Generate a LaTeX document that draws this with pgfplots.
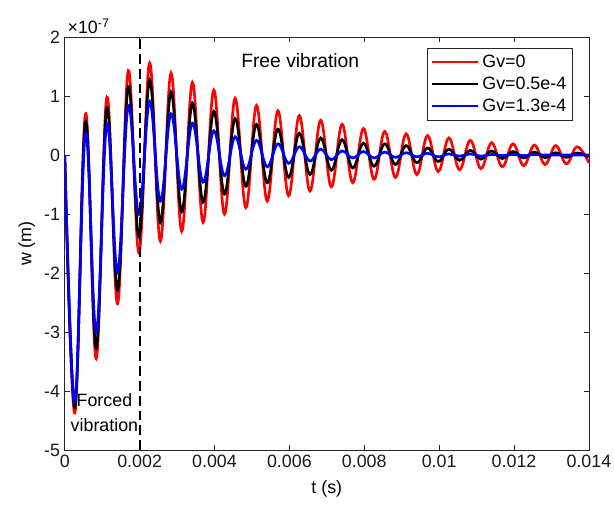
\documentclass[border=0pt]{standalone}
\usepackage{pgfplots}
\pgfplotsset{compat=1.18}
\usepackage{pgfplotstable}
\usepackage{fontspec}
\setmainfont{Liberation Sans}

% t in s, w in units of 1e-7 m; extrema
\pgfplotstableread{
t        r      k      b
0.000000  0.00   0.00   0.00
0.000270 -4.37  -4.27  -4.18
0.000555  0.70   0.56   0.37
0.000841 -3.45  -3.27  -3.01
0.001126  0.98   0.80   0.53
0.001412 -2.52  -2.29  -1.98
0.001697  1.43   1.16   0.83
0.001983 -1.66  -1.38  -1.00
0.002268  1.56   1.27   0.91
0.002553 -1.46  -1.14  -0.78
0.002839  1.39   1.07   0.70
0.003124 -1.29  -0.96  -0.58
0.003410  1.23   0.88   0.54
0.003695 -1.14  -0.80  -0.46
0.003981  1.10   0.74   0.41
0.004266 -1.00  -0.66  -0.35
0.004551  0.96   0.62   0.31
0.004837 -0.89  -0.53  -0.24
0.005122  0.84   0.52   0.25
0.005408 -0.78  -0.47  -0.20
0.005693  0.75   0.44   0.19
0.005979 -0.69  -0.38  -0.14
0.006264  0.67   0.37   0.14
0.006549 -0.61  -0.33  -0.10
0.006835  0.59   0.29   0.10
0.007120 -0.54  -0.26  -0.08
0.007406  0.52   0.26   0.07
0.007691 -0.47  -0.22  -0.05
0.007977  0.45   0.20   0.06
0.008262 -0.41  -0.19  -0.05
0.008547  0.40   0.19   0.05
0.008833 -0.38  -0.16  -0.04
0.009118  0.36   0.16   0.04
0.009404 -0.33  -0.13  -0.03
0.009689  0.33   0.12   0.03
0.009975 -0.28  -0.11  -0.03
0.010260  0.29   0.10   0.02
0.010545 -0.25  -0.09  -0.02
0.010831  0.25   0.08   0.02
0.011116 -0.23  -0.07  -0.02
0.011402  0.21   0.07   0.01
0.011687 -0.20  -0.06  -0.01
0.011973  0.19   0.06   0.01
0.012258 -0.18  -0.05  -0.01
0.012543  0.17   0.05   0.01
0.012829 -0.16  -0.045  0.00
0.013114  0.16   0.04   0.00
0.013400 -0.15  -0.04   0.00
0.013685  0.14   0.035  0.00
0.014000 -0.13  -0.03   0.00
}\data

\begin{document}
\begin{tikzpicture}
\begin{axis}[
  scale only axis,
  width=396.75pt, height=312.75pt,
  xmin=0, xmax=0.014, ymin=-5, ymax=2,
  xtick={0,0.002,0.004,0.006,0.008,0.01,0.012,0.014},
  xticklabels={0,0.002,0.004,0.006,0.008,0.01,0.012,0.014},
  ytick={-5,-4,-3,-2,-1,0,1,2},
  yticklabels={-5,-4,-3,-2,-1,0,1,2},
  scaled x ticks=false, scaled y ticks=false,
  tick align=inside,
  major tick length=3.75pt,
  axis line style={draw=black!85, line width=0.6pt},
  every tick/.style={black!85, line width=0.6pt},
  ticklabel style={font=\fontsize{13.5}{16}\selectfont, text=black!90},
  xlabel={t (s)}, ylabel={w (m)},
  label style={font=\fontsize{13.5}{16}\selectfont},
  xlabel style={yshift=-3pt},
  legend cell align=left,
  legend style={at={(0.970,0.974)}, anchor=north east,
    draw=black!85, line width=0.6pt,
    font=\fontsize{13.5}{16}\selectfont,
    inner xsep=3pt, inner ysep=3pt, row sep=1.8pt},
  legend image code/.code={\draw[#1] (0pt,0pt) -- (35pt,0pt);},
]
\addplot[red, line width=2pt, smooth, tension=0.65] table[x=t, y=r] {\data};
\addlegendentry{Gv=0}
\addplot[black, line width=2pt, smooth, tension=0.65] table[x=t, y=k] {\data};
\addlegendentry{Gv=0.5e-4}
\addplot[blue, line width=2pt, smooth, tension=0.65] table[x=t, y=b] {\data};
\addlegendentry{Gv=1.3e-4}
\addplot[black, line width=1.4pt, dash pattern=on 7.5pt off 3.75pt, forget plot] coordinates {(0.002,-5) (0.002,2)};
\node[font=\fontsize{14.6}{17}\selectfont] at (axis cs:0.00629,1.6) {Free vibration};
\node[font=\fontsize{13.5}{19}\selectfont, align=center] at (axis cs:0.00106,-4.36) {Forced\\vibration};
\end{axis}
\node[font=\fontsize{13.5}{16}\selectfont, anchor=south west, inner sep=1pt, xshift=1pt, yshift=1pt] at (current axis.north west) {×10\textsuperscript{-7}};
\pgfresetboundingbox
\path ([shift={(-49pt,-43pt)}]current axis.south west) rectangle ([shift={(19pt,28pt)}]current axis.north east);
\end{tikzpicture}
\end{document}
